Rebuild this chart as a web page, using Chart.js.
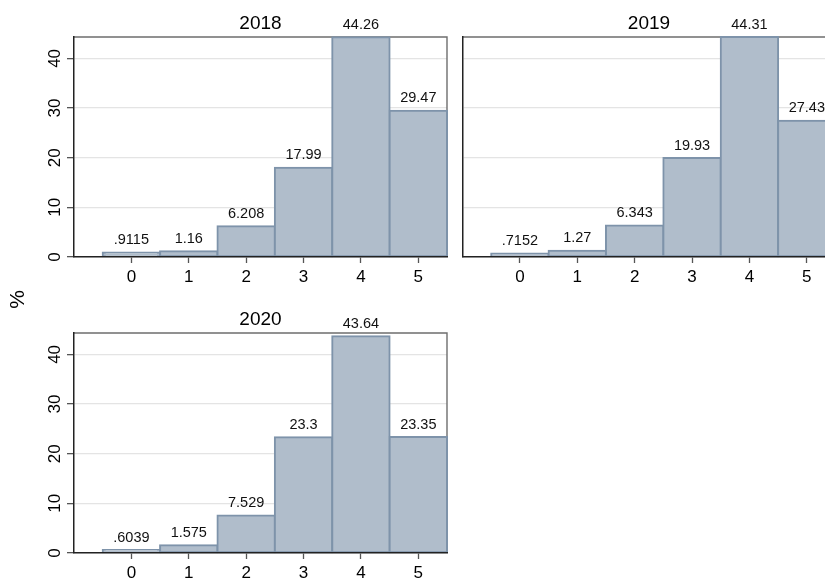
<!DOCTYPE html>
<html>
<head>
<meta charset="utf-8">
<script src="https://cdn.jsdelivr.net/npm/chart.js@4.4.1/dist/chart.umd.min.js"></script>
<style>
  html, body { margin: 0; padding: 0; background: #ffffff; overflow: hidden; }
  #wrap { position: relative; width: 825px; height: 578px; overflow: hidden; background: #ffffff; }
  #wrap canvas { position: absolute; }
  #ylab {
    position: absolute; left: 5px; top: 284px; width: 31px; height: 31px;
    line-height: 31px; text-align: center; font: 21px "Liberation Sans", Helvetica, Arial, sans-serif;
    color: #000; transform: rotate(-90deg);
  }
</style>
</head>
<body>
<div id="wrap">
  <canvas id="p2018" width="455" height="290" style="left:0px;top:0px"></canvas>
  <canvas id="p2019" width="400" height="290" style="left:455px;top:0px"></canvas>
  <canvas id="p2020" width="455" height="300" style="left:0px;top:296px"></canvas>
  <div id="ylab">%</div>
</div>
<script>
// Percent of respondents in each score bin, by survey year
const years = ['2018', '2019', '2020'];
const bins = [0, 1, 2, 3, 4, 5];
const pct2018 = [0.9115, 1.16, 6.208, 17.99, 44.26, 29.47];
const pct2019 = [0.7152, 1.27, 6.343, 19.93, 44.31, 27.43];
const pct2020 = [0.6039, 1.575, 7.529, 23.3, 43.64, 23.35];
const yTicks = [0, 10, 20, 30, 40];
const xTicks = [0, 1, 2, 3, 4, 5];

const FONT = '"Liberation Sans", Helvetica, Arial, sans-serif';
const BAR_FILL = '#b0bdcb';
const BAR_EDGE = '#7e93aa';
const yMax = Math.max(...pct2018, ...pct2019, ...pct2020);

// 4 significant digits, no leading zero, no trailing zeros
function statLabel(v) {
  let s = v.toPrecision(4);
  if (s.indexOf('.') >= 0) s = s.replace(/0+$/, '').replace(/\.$/, '');
  return s.replace(/^0\./, '.');
}

// Top and right edges of the plot region
const framePlugin = {
  id: 'frame',
  beforeDatasetsDraw(chart) {
    const { ctx, chartArea: a } = chart;
    ctx.save();
    ctx.strokeStyle = '#6e6e6e';
    ctx.lineWidth = 1.4;
    ctx.beginPath();
    ctx.moveTo(a.left, a.top);
    ctx.lineTo(a.right, a.top);
    ctx.lineTo(a.right, a.bottom);
    ctx.stroke();
    ctx.restore();
  }
};

// Height of each bar written above it
const barLabelPlugin = {
  id: 'barLabels',
  afterDatasetsDraw(chart) {
    const { ctx } = chart;
    const meta = chart.getDatasetMeta(0);
    const values = chart.data.datasets[0].data;
    ctx.save();
    ctx.font = '14.5px ' + FONT;
    ctx.fillStyle = '#111';
    ctx.textAlign = 'center';
    ctx.textBaseline = 'middle';
    meta.data.forEach((bar, i) => {
      ctx.fillText(statLabel(values[i].y), bar.x, bar.y - 12.5);
    });
    ctx.restore();
  }
};

function makePanel(id, title, values, opt) {
  const data = bins.map((b, i) => ({ x: b, y: values[i] }));
  return new Chart(document.getElementById(id), {
    type: 'bar',
    data: {
      datasets: [{
        data: data,
        backgroundColor: BAR_FILL,
        borderColor: BAR_EDGE,
        borderWidth: 2,
        borderSkipped: false,
        inflateAmount: 1,
        barPercentage: 1,
        categoryPercentage: 1,
        clip: false
      }]
    },
    options: {
      responsive: false,
      animation: false,
      events: [],
      layout: { padding: { left: 0, right: opt.padRight, top: 0, bottom: 0 } },
      plugins: {
        legend: { display: false },
        tooltip: { enabled: false },
        title: {
          display: true,
          text: title,
          fullSize: false,
          color: '#000',
          font: { family: FONT, size: 19, weight: 'normal' },
          padding: { top: 12.6, bottom: 1.6 }
        }
      },
      scales: {
        x: {
          type: 'linear',
          min: -1,
          max: 5.5,
          offset: false,
          afterBuildTicks: s => { s.ticks = xTicks.map(v => ({ value: v })); },
          afterFit: s => { s.height = opt.xHeight; },
          grid: {
            offset: false,
            drawOnChartArea: false,
            drawTicks: true,
            tickLength: 6,
            tickColor: '#555',
            tickWidth: 1.3
          },
          border: { display: true, color: '#222', width: 1.5, z: 1 },
          ticks: {
            autoSkip: false,
            maxRotation: 0,
            padding: 4,
            color: '#000',
            font: { family: FONT, size: 17 }
          }
        },
        y: {
          min: 0,
          max: yMax,
          afterBuildTicks: s => { s.ticks = yTicks.map(v => ({ value: v })); },
          afterFit: s => { s.width = opt.yWidth; },
          grid: {
            color: '#e4e4e4',
            lineWidth: 1.3,
            drawTicks: opt.yLabels,
            tickLength: 7,
            tickColor: '#555',
            tickWidth: 1.3
          },
          border: { display: true, color: '#222', width: 1.5, z: 1 },
          ticks: {
            display: opt.yLabels,
            autoSkip: false,
            minRotation: 90,
            maxRotation: 90,
            crossAlign: 'center',
            padding: 2.5,
            color: '#000',
            font: { family: FONT, size: 17 }
          }
        }
      }
    },
    plugins: [framePlugin, barLabelPlugin]
  });
}

makePanel('p2018', years[0], pct2018, { padRight: 8, yWidth: 74, xHeight: 33, yLabels: true });
makePanel('p2019', years[1], pct2019, { padRight: 19.5, yWidth: 7.5, xHeight: 33, yLabels: false });
makePanel('p2020', years[2], pct2020, { padRight: 8, yWidth: 74, xHeight: 43, yLabels: true });
</script>
</body>
</html>
